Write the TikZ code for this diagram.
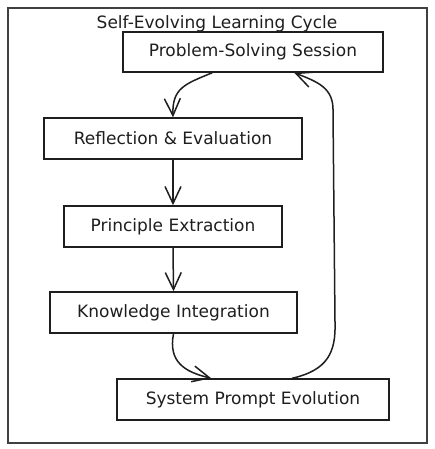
\documentclass[tikz,border=0pt]{standalone}
\usepackage{fontspec}
\setmainfont{DejaVu Sans}
\usetikzlibrary{arrows.meta,calc}
\definecolor{ink}{HTML}{1E1E1E}
\begin{document}
\begin{tikzpicture}[x=1pt,y=-1pt,
  txt/.style={text=ink,font=\fontsize{17}{19}\selectfont},
  stage/.style={txt,draw=ink,line width=1.5pt,inner sep=0pt},
  flow/.style={draw=ink,line width=1.5pt,
     -{Straight Barb[length=17pt,width=16pt,line width=1.5pt]}}]
\useasboundingbox (0,0) rectangle (435,449);
\node[draw=ink!85,line width=2pt,minimum width=419pt,minimum height=435pt,inner sep=0pt] (frame) at (217.5,225.5) {};
\node[txt] (title) at (217,24) {Self-Evolving Learning Cycle};
\node[stage,minimum width=260pt,minimum height=40pt] (pss) at (253,52) {Problem-Solving Session};
\node[stage,minimum width=258pt,minimum height=41pt] (ref) at (173,138.5) {Reflection \& Evaluation};
\node[stage,minimum width=218pt,minimum height=41pt] (pe) at (173,226.5) {Principle Extraction};
\node[stage,minimum width=247pt,minimum height=41pt] (ki) at (173.5,312.5) {Knowledge Integration};
\node[stage,minimum width=272pt,minimum height=41pt] (spe) at (253,399.5) {System Prompt Evolution};
\coordinate (a1) at ([xshift=90pt]pss.south west);
\coordinate (a5) at ([xshift=172pt]pss.south west);
\coordinate (b4) at ([xshift=95pt]spe.north west);
\coordinate (b5) at ([xshift=176pt]spe.north west);
\draw[flow] (a1) .. controls (185,84) and (172,88) .. (ref.north);
\draw[flow] (ref.south) -- (pe.north);
\draw[flow] (pe.south) -- (ki.north);
\draw[flow] (ki.south) .. controls (168,362) and (185,372) .. (b4);
\draw[flow] (b5) .. controls (328,370) and (336,352) .. (335,322)
   -- (333,112) .. controls (334,88) and (318,82) .. (a5);
\end{tikzpicture}
\end{document}
